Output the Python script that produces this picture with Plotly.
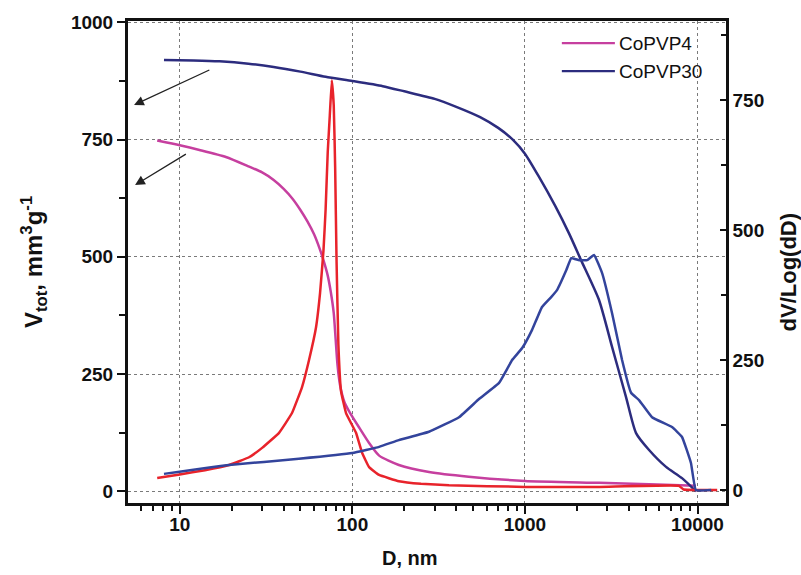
import plotly.graph_objects as go

# ---- data -------------------------------------------------------------
# CoPVP4: cumulative pore volume (left axis) and dV/dlogD (right axis)
copvp4_cum_d = [7.4, 10, 13, 18.5, 25, 30, 35, 40, 45, 50, 55, 60, 65, 68, 72, 75,
                78, 80, 82, 85, 90, 96, 109, 125, 143, 186, 278, 472, 1000, 2690,
                5240, 9800]
copvp4_cum_v = [748, 738, 728, 713, 693, 680, 664, 645, 624, 600, 575, 548, 515,
                493, 460, 425, 380, 325, 270, 225, 190, 170, 137, 103, 76, 56, 41,
                31, 22, 18, 15, 12]

copvp4_dif_d = [7.4, 10, 14, 19.3, 25.2, 30, 37.6, 44.7, 51.1, 56.1, 61.6, 65, 68, 70,
                72, 74, 76, 78, 79.5, 81, 83, 86, 91.9, 105, 114, 125, 143, 186, 250,
                363, 1000, 2690, 7800, 8300, 10000, 13000]
copvp4_dif_v = [23, 30, 38, 48, 63, 81, 110, 148, 198, 250, 313, 379, 460, 540,
                650, 720, 788, 740, 620, 440, 280, 190, 148, 110, 71, 44, 29, 17, 12,
                9, 6, 6, 8, 1, 0, 0]

# CoPVP30: cumulative pore volume (left axis) and dV/dlogD (right axis)
copvp30_cum_d = [8.1, 12, 17, 25, 35, 50, 70, 100, 150, 200, 300, 400, 550, 700,
                 850, 1000, 1200, 1500, 1800, 2114, 2687, 3197, 3853, 4404, 5239,
                 6570, 8130, 9790]
copvp30_cum_v = [920, 919, 917, 912, 905, 895, 884, 875, 864, 853, 837, 820, 798,
                 775, 750, 720, 672, 608, 550, 493, 408, 308, 201, 124, 88, 52, 28, 0]

copvp30_dif_d = [8.1, 19.3, 49, 100, 143, 186, 278, 415, 542, 708, 843, 964, 1100,
                 1256, 1419, 1537, 1737, 1855, 2064, 2293, 2515, 2800, 3198, 3654,
                 4120, 4580, 5450, 7110, 8130, 9160, 9780, 12000]
copvp30_dif_v = [31, 48, 60, 71, 83, 96, 112, 140, 175, 206, 250, 273, 308,
                 352, 371, 385, 423, 446, 442, 442, 452, 417, 340, 250,
                 187, 173, 140, 121, 102, 52, 0, 0]

x_tick_vals = [10, 100, 1000, 10000]
x_tick_text = ["10", "100", "1000", "10000"]

# arrows pointing from the cumulative curves to the left axis: (log10 D, V)
arrow_heads = [(0.735, 824), (0.741, 653)]
arrow_tails = [(1.18, 900), (1.044, 721)]

legend_names = ["CoPVP4", "CoPVP30"]

# ---- style -------------------------------------------------------------
MAGENTA = "#c63f9f"
NAVY = "#2c2c7e"
RED = "#e8232b"
BLUE = "#33449c"
FONT = "Liberation Sans"

fig = go.Figure()

fig.add_trace(go.Scatter(x=copvp4_cum_d, y=copvp4_cum_v, mode="lines",
                         line=dict(color=MAGENTA, width=2.5, shape="spline", smoothing=0.6),
                         showlegend=False))
fig.add_trace(go.Scatter(x=copvp30_cum_d, y=copvp30_cum_v, mode="lines",
                         line=dict(color=NAVY, width=2.5, shape="spline", smoothing=0.6),
                         showlegend=False))
fig.add_trace(go.Scatter(x=copvp4_dif_d, y=copvp4_dif_v, mode="lines", yaxis="y2",
                         line=dict(color=RED, width=2.5, shape="spline", smoothing=0.3),
                         showlegend=False))
fig.add_trace(go.Scatter(x=copvp30_dif_d, y=copvp30_dif_v, mode="lines", yaxis="y2",
                         line=dict(color=BLUE, width=2.5, shape="spline", smoothing=0.3),
                         showlegend=False))

annotations = []
for (hx, hy), (tx, ty) in zip(arrow_heads, arrow_tails):
    annotations.append(dict(x=hx, y=hy, ax=tx, ay=ty, xref="x", yref="y",
                            axref="x", ayref="y", text="", showarrow=True,
                            arrowhead=2, arrowsize=1.5, arrowwidth=1.3,
                            arrowcolor="#222222"))

# hand-drawn legend
shapes = []
legend_colors = [MAGENTA, NAVY]
legend_y = [0.954, 0.896]
for name, col, ly in zip(legend_names, legend_colors, legend_y):
    shapes.append(dict(type="line", xref="paper", yref="paper",
                       x0=0.7255, x1=0.8142, y0=ly, y1=ly,
                       line=dict(color=col, width=2.2)))
    annotations.append(dict(x=0.8175, y=ly, xref="paper", yref="paper",
                            text=name, showarrow=False, xanchor="left",
                            yanchor="middle",
                            font=dict(family=FONT, size=19, color="#111111")))

# axis titles
annotations.append(dict(x=0.471, y=-0.114, xref="paper", yref="paper",
                        text="D, nm", showarrow=False, xanchor="center",
                        yanchor="middle",
                        font=dict(family=FONT, size=20, color="#111111", weight="bold")))
annotations.append(dict(x=-0.157, y=0.50, xref="paper", yref="paper",
                        text="V<sub>tot</sub>, mm<sup>3</sup>g<sup>-1</sup>",
                        showarrow=False, textangle=-90, xanchor="center",
                        yanchor="middle",
                        font=dict(family=FONT, size=24, color="#111111", weight="bold")))
annotations.append(dict(x=1.105, y=0.48, xref="paper", yref="paper",
                        text="dV/Log(dD)", showarrow=False, textangle=-90,
                        xanchor="center", yanchor="middle",
                        font=dict(family=FONT, size=22, color="#111111", weight="bold")))

tickfont = dict(family=FONT, size=19, color="#111111", weight="bold")
grid = dict(showgrid=True, gridcolor="#7a7a7a", gridwidth=1, griddash="dot")

fig.update_layout(
    width=801, height=575,
    margin=dict(l=128, r=75, t=21, b=72),
    paper_bgcolor="white", plot_bgcolor="white",
    showlegend=False,
    xaxis=dict(type="log", range=[0.70, 4.165], tickvals=x_tick_vals,
               ticktext=x_tick_text, ticks="outside", ticklen=8, tickwidth=2,
               tickcolor="#111111", ticklabelstandoff=-6,
               minor=dict(ticks="outside", ticklen=5, tickwidth=1.6,
                          tickcolor="#111111", dtick="D1", showgrid=False),
               showline=True, linecolor="#111111", linewidth=3, mirror=True,
               zeroline=False, tickfont=tickfont, **grid),
    yaxis=dict(range=[-25, 1003], tick0=0, dtick=250, ticks="outside",
               ticklen=8, tickwidth=2, tickcolor="#111111",
               minor=dict(ticks="outside", ticklen=6, tickwidth=1.6,
                          tickcolor="#111111", dtick=125, tick0=0, showgrid=False),
               showline=True, linecolor="#111111", linewidth=3,
               zeroline=False, tickfont=tickfont, **grid),
    yaxis2=dict(overlaying="y", side="right", range=[-25, 902], tick0=0,
                dtick=250, ticks="inside", ticklen=6, tickwidth=2,
                tickcolor="#111111",
                minor=dict(ticks="inside", ticklen=5, tickwidth=1.6,
                           tickcolor="#111111", dtick=125, tick0=0),
                showline=True, linecolor="#111111", linewidth=2.5,
                showgrid=False, zeroline=False, tickfont=tickfont),
    shapes=shapes,
    annotations=annotations,
)

fig.write_html("out.html")
